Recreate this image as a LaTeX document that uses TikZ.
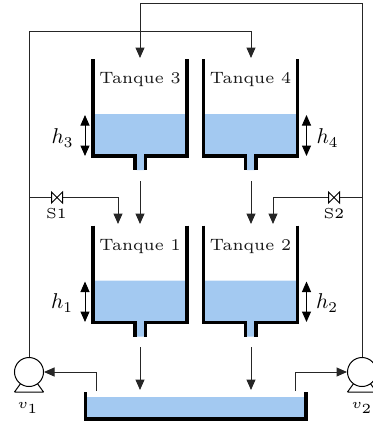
\documentclass[tikz,border=0pt]{standalone}
\usetikzlibrary{arrows.meta}
\definecolor{water}{HTML}{A3C9F1}
\definecolor{pipe}{HTML}{262626}
\tikzset{
  x=1bp,y=-1bp,
  wall/.style={line width=3.2bp,draw=black,line join=miter,line cap=butt},
  wat/.style={fill=water,draw=none},
  pipeline/.style={line width=1bp,draw=pipe},
  flow/.style={pipeline,-{Triangle[width=9bp,length=10.5bp]}},
  level/.style={line width=1bp,draw=black,{Triangle[width=9bp,length=10.5bp]}-{Triangle[width=9bp,length=10.5bp]}},
  tanklabel/.style={inner sep=0pt,text=black!90},
  sym/.style={inner sep=0pt},
  valveshape/.style={line width=1bp,draw=black,fill=white},
}
\newcommand{\tanktxt}[1]{\scalebox{2.75}{\fontsize{6}{7}\selectfont #1}}
\newcommand{\bigmath}[1]{\scalebox{2.15}{$#1$}}
\newcommand{\smalltxt}[1]{\scalebox{2.9}{\tiny #1}}
\newcommand{\pumptxt}[1]{\scalebox{2.8}{\tiny $#1$}}
% tank: #1 left x, #2 top y, name #3
\newcommand{\tank}[3]{%
  \begin{scope}[shift={(#1,#2)}]
    \fill[wat] (0,55) rectangle (94,97) (43.5,97) rectangle (51,111);
    \draw[wall] (0,0) -- (0,97) -- (42,97) -- (42,111);
    \draw[wall] (94,0) -- (94,97) -- (52.5,97) -- (52.5,111);
    \node[tanklabel] (#3) at (47,21) {\tanktxt{Tanque #3}};
  \end{scope}}
% pump: name, cx, cy
\newcommand{\pumpshape}[3]{%
  \draw[line width=1bp,draw=black] (#2-14.5,392) -- (#2-8,383) (#2+14.5,392) -- (#2+8,383) (#2-14.5,392) -- (#2+14.5,392);
  \node[circle,draw=black,fill=white,line width=1bp,minimum size=29bp,inner sep=0pt] (#1) at (#2,#3) {};}
\newcommand{\valveshp}[3]{%
  \draw[valveshape] (#2-5.5,#3-5.5) -- (#2+5.5,#3+5.5) -- (#2+5.5,#3-5.5) -- (#2-5.5,#3+5.5) -- cycle;
  \coordinate (#1) at (#2,#3);}
\begin{document}
\begin{tikzpicture}
\useasboundingbox (0,0) rectangle (373,425);
\clip (0,0) rectangle (373,425);
\tank{93}{59}{3}
\tank{203.5}{59}{4}
\tank{93}{225.5}{1}
\tank{203.5}{225.5}{2}
% reservoir
\fill[wat] (85,397) rectangle (306,418);
\draw[wall] (85.5,392) -- (85.5,419) -- (306,419) -- (306,392);
% named points
\coordinate (c1) at (29,31);
\coordinate (c2) at (251,31);
\coordinate (in4) at (251,58);
\coordinate (c3) at (140,3.5);
\coordinate (c4) at (362,3.5);
\coordinate (in3) at (140,58);
\coordinate (j1) at (29,197.5);
\coordinate (j2) at (362,197.5);
\coordinate (b1) at (118,197.5);
\coordinate (b2) at (273,197.5);
\coordinate (a1) at (118,224);
\coordinate (a2) at (273,224);
\coordinate (o3) at (140,181);
\coordinate (o4) at (251,181);
\coordinate (t1) at (140,224);
\coordinate (t2) at (251,224);
\coordinate (o1) at (140,347);
\coordinate (o2) at (251,347);
\coordinate (r1) at (140,390);
\coordinate (r2) at (251,390);
\coordinate (s1) at (96,391);
\coordinate (s2) at (295,391);
\coordinate (s1c) at (96,372);
\coordinate (s2c) at (295,372);
% pumps
\pumpshape{v1}{29}{372}
\pumpshape{v2}{362}{372}
% pipes
\draw[flow] (v1.north) -- (c1) -- (c2) -- (in4);
\draw[flow] (v2.north) -- (c4) -- (c3) -- (in3);
\draw[flow] (j1) -- (b1) -- (a1);
\draw[flow] (j2) -- (b2) -- (a2);
\draw[flow] (o3) -- (t1);
\draw[flow] (o4) -- (t2);
\draw[flow] (o1) -- (r1);
\draw[flow] (o2) -- (r2);
\draw[flow] (s1) -- (s1c) -- (v1.east);
\draw[flow] (s2) -- (s2c) -- (v2.west);
% valves
\valveshp{vs1}{57}{197.5}
\valveshp{vs2}{334}{197.5}
\node[sym] (ls1) at (56.5,213.5) {\smalltxt{S1}};
\node[sym] (ls2) at (334,213.5) {\smalltxt{S2}};
% levels
\coordinate (h3a) at (85,115); \coordinate (h3b) at (85,156);
\coordinate (h4a) at (306.5,115); \coordinate (h4b) at (306.5,156);
\coordinate (h1a) at (85,281.5); \coordinate (h1b) at (85,322);
\coordinate (h2a) at (306.5,281.5); \coordinate (h2b) at (306.5,322);
\draw[level] (h3a) -- (h3b);
\draw[level] (h4a) -- (h4b);
\draw[level] (h1a) -- (h1b);
\draw[level] (h2a) -- (h2b);
\node[sym] (h3) at (62.5,138) {\bigmath{h_3}};
\node[sym] (h4) at (327.5,138) {\bigmath{h_4}};
\node[sym] (h1) at (62,303) {\bigmath{h_1}};
\node[sym] (h2) at (327,303) {\bigmath{h_2}};
\node[sym] (lv1) at (28,408) {\pumptxt{v_1}};
\node[sym] (lv2) at (362,408) {\pumptxt{v_2}};
\end{tikzpicture}
\end{document}
